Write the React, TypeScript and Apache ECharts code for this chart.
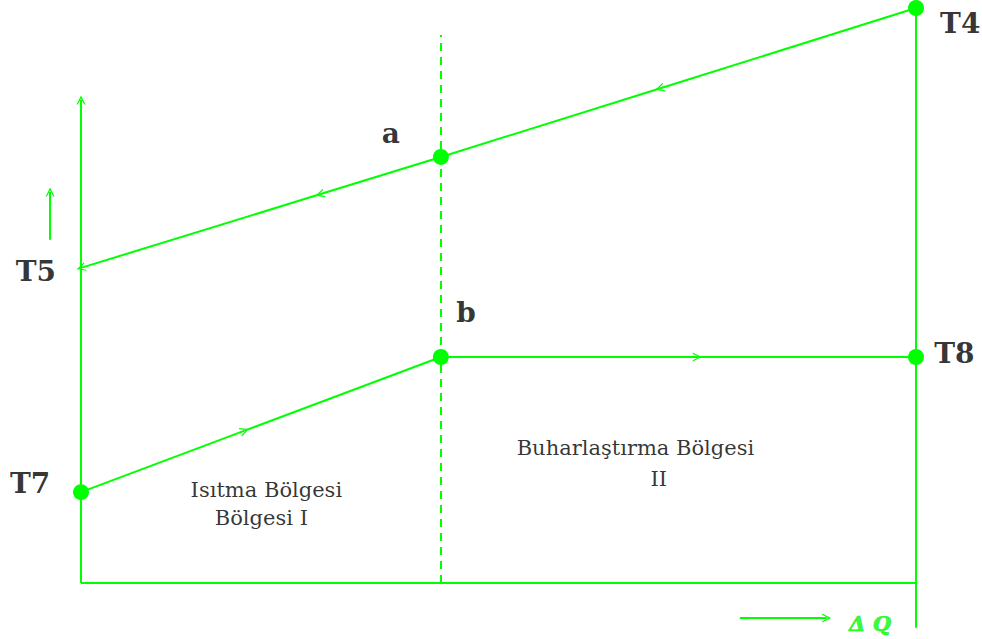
import React, { useEffect, useRef } from "react";
import * as echarts from "echarts";

// ---- data (ΔQ on x, T on y, arbitrary units) ----
const stateNames = ["T4", "a", "b", "T8", "T7"];
const stateQ = [100, 43.1, 43.1, 100, 0];
const stateT = [100, 74.1, 39.3, 39.3, 15.8];

// flow lines: start, arrow position, end
const flowStart = [[100, 100], [43.1, 74.1], [0, 15.8], [43.1, 39.3]];
const flowArrowAt = [[69.3, 86.0], [28.6, 67.6], [19.6, 26.5], [73.8, 39.3]];
const flowEnd = [[43.1, 74.1], [0, 54.8], [43.1, 39.3], [100, 39.3]];
const flowEndArrow = [false, true, false, false];

// axis-like arrows
const arrowStart = [[0, 0], [-3.7, 59.7], [78.9, -6.1]];
const arrowEnd = [[0, 84], [-3.7, 68], [89.3, -6.1]];

// plain frame lines
const frameStart = [[0, 0], [100, -7.8]];
const frameEnd = [[100, 0], [100, 100]];

// zone divider (dashed)
const dividerQ = 43.1;
const dividerT = [0, 95.3];

// point labels
const labelNames = ["T4", "a", "b", "T8", "T7", "T5"];
const labelQ = [105.3, 37.1, 46.1, 104.6, -6.1, -5.4];
const labelT = [97.3, 78.1, 47.0, 40.0, 17.3, 54.1];

// region texts
const regionTexts = ["Isıtma Bölgesi", "Bölgesi I", "Buharlaştırma Bölgesi", "II"];
const regionQ = [22.2, 21.6, 66.4, 69.2];
const regionT = [16.2, 11.3, 23.5, 18.1];

const qLabel = "Δ Q";
const qLabelPos = [94.5, -7.0];

const GREEN = "#00ff00";
const CHEVRON = "path://M0,10 L5,0 L10,10 L8.6,10 L5,3.2 L1.4,10 Z";

export default function App() {
  const ref = useRef<HTMLDivElement>(null);

  useEffect(() => {
    if (!ref.current) return;
    const chart = echarts.init(ref.current, undefined, { renderer: "svg" });

    const arrowedLines: any[] = [];
    const plainLines: any[] = [];
    flowStart.forEach((s, i) => {
      arrowedLines.push({ coords: [s, flowArrowAt[i]] });
      if (flowEndArrow[i]) arrowedLines.push({ coords: [flowArrowAt[i], flowEnd[i]] });
      else plainLines.push({ coords: [flowArrowAt[i], flowEnd[i]] });
    });
    arrowStart.forEach((s, i) => arrowedLines.push({ coords: [s, arrowEnd[i]] }));
    frameStart.forEach((s, i) => plainLines.push({ coords: [s, frameEnd[i]] }));

    chart.setOption({
      animation: false,
      backgroundColor: "#ffffff",
      grid: { left: 5.85, right: 66, top: 8, bottom: 10 },
      xAxis: { type: "value", min: -9, max: 100, show: false },
      yAxis: { type: "value", min: -8, max: 100, show: false },
      series: [
        {
          type: "lines",
          coordinateSystem: "cartesian2d",
          symbol: ["none", "none"],
          lineStyle: { color: GREEN, width: 2, opacity: 1 },
          data: plainLines,
          silent: true,
        },
        {
          type: "lines",
          coordinateSystem: "cartesian2d",
          symbol: ["none", CHEVRON],
          symbolSize: [10, 9],
          lineStyle: { color: GREEN, width: 2, opacity: 1 },
          data: arrowedLines,
          silent: true,
        },
        {
          type: "lines",
          coordinateSystem: "cartesian2d",
          symbol: ["none", "none"],
          lineStyle: { color: GREEN, width: 2, type: [8, 6], opacity: 1 },
          data: [{ coords: [[dividerQ, dividerT[0]], [dividerQ, dividerT[1]]] }],
          silent: true,
        },
        {
          type: "scatter",
          symbol: "circle",
          symbolSize: 16,
          itemStyle: { color: GREEN, opacity: 1 },
          data: stateNames.map((n, i) => ({ name: n, value: [stateQ[i], stateT[i]] })),
          z: 5,
          silent: true,
        },
        {
          type: "scatter",
          symbolSize: 0,
          clip: false,
          silent: true,
          data: labelNames.map((n, i) => ({ name: n, value: [labelQ[i], labelT[i]] })),
          label: {
            show: true,
            position: "inside",
            formatter: (p: any) => p.name,
            color: "#000000",
            fontFamily: "DejaVu Serif",
            fontWeight: "bold",
            fontSize: 28,
          },
        },
        {
          type: "scatter",
          symbolSize: 0,
          clip: false,
          silent: true,
          data: regionTexts.map((n, i) => ({ name: n, value: [regionQ[i], regionT[i]] })),
          label: {
            show: true,
            position: "inside",
            formatter: (p: any) => p.name,
            color: "#000000",
            fontFamily: "DejaVu Serif",
            fontWeight: "normal",
            fontSize: 21,
          },
        },
        {
          type: "scatter",
          symbolSize: 0,
          clip: false,
          silent: true,
          data: [{ name: qLabel, value: qLabelPos }],
          label: {
            show: true,
            position: "inside",
            formatter: (p: any) => p.name,
            color: GREEN,
            fontFamily: "DejaVu Serif",
            fontWeight: "bold",
            fontStyle: "italic",
            fontSize: 21,
            textBorderColor: "#00cc00",
            textBorderWidth: 0.6,
          },
        },
      ],
    });

    return () => chart.dispose();
  }, []);

  return (
    <div
      ref={ref}
      style={{ position: "fixed", left: 0, top: 0, width: 982, height: 639, background: "#fff" }}
    />
  );
}
